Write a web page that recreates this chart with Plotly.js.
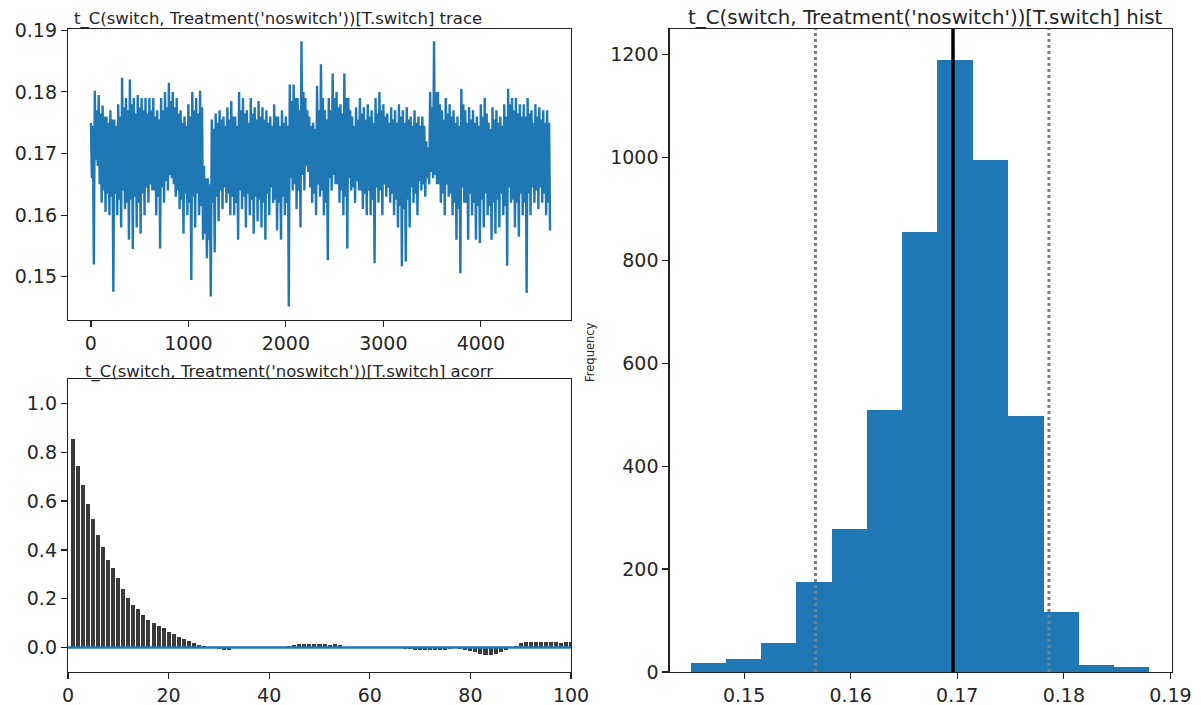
<!DOCTYPE html>
<html>
<head>
<meta charset="utf-8">
<script src="https://cdn.plot.ly/plotly-3.0.1.min.js"></script>
<style>html,body{margin:0;padding:0;background:#fff;}#chart{width:1201px;height:705px;}</style>
</head>
<body>
<div id="chart"></div>
<script>
// ---- trace panel: per block of traceStep samples, the spike high / low and the dense core high / low ----
var traceStep = 40;
var traceHigh = [0.1750,0.1802,0.1795,0.1778,0.1760,0.1770,0.1755,0.1780,0.1823,0.1790,
0.1820,0.1790,0.1795,0.1790,0.1790,0.1790,0.1790,0.1770,0.1790,0.1800,
0.1815,0.1800,0.1790,0.1770,0.1760,0.1780,0.1800,0.1790,0.1802,0.1680,
0.1660,0.1755,0.1765,0.1770,0.1760,0.1775,0.1785,0.1760,0.1800,0.1790,
0.1770,0.1790,0.1775,0.1785,0.1775,0.1770,0.1760,0.1780,0.1760,0.1770,
0.1760,0.1812,0.1812,0.1790,0.1882,0.1790,0.1760,0.1750,0.1810,0.1845,
0.1770,0.1790,0.1830,0.1800,0.1780,0.1830,0.1790,0.1760,0.1775,0.1790,
0.1775,0.1780,0.1770,0.1790,0.1800,0.1780,0.1765,0.1775,0.1770,0.1780,
0.1770,0.1775,0.1760,0.1770,0.1760,0.1760,0.1720,0.1800,0.1882,0.1800,
0.1770,0.1790,0.1780,0.1770,0.1760,0.1805,0.1770,0.1775,0.1770,0.1760,
0.1780,0.1790,0.1750,0.1775,0.1770,0.1760,0.1780,0.1805,0.1790,0.1790,
0.1780,0.1780,0.1790,0.1770,0.1780,0.1775,0.1770,0.1770];
var traceLow = [0.1520,0.1680,0.1620,0.1605,0.1600,0.1476,0.1600,0.1580,0.1610,0.1560,
0.1545,0.1580,0.1570,0.1600,0.1620,0.1640,0.1600,0.1546,0.1620,0.1640,
0.1660,0.1630,0.1610,0.1570,0.1600,0.1495,0.1580,0.1600,0.1560,0.1530,
0.1468,0.1540,0.1590,0.1610,0.1620,0.1600,0.1600,0.1560,0.1610,0.1580,
0.1600,0.1570,0.1590,0.1580,0.1560,0.1600,0.1620,0.1575,0.1560,0.1600,
0.1452,0.1640,0.1610,0.1580,0.1640,0.1670,0.1620,0.1600,0.1630,0.1600,
0.1527,0.1640,0.1650,0.1620,0.1600,0.1546,0.1640,0.1620,0.1640,0.1610,
0.1600,0.1600,0.1522,0.1620,0.1600,0.1630,0.1620,0.1600,0.1580,0.1517,
0.1525,0.1580,0.1620,0.1600,0.1640,0.1630,0.1650,0.1660,0.1650,0.1620,
0.1600,0.1630,0.1600,0.1560,0.1506,0.1620,0.1560,0.1600,0.1560,0.1555,
0.1580,0.1600,0.1560,0.1570,0.1580,0.1600,0.1518,0.1620,0.1580,0.1565,
0.1600,0.1474,0.1600,0.1620,0.1610,0.1620,0.1600,0.1575];
var traceCoreHigh = [0.1745,0.1770,0.1765,0.1760,0.1750,0.1755,0.1745,0.1760,0.1775,0.1770,
0.1780,0.1765,0.1775,0.1770,0.1765,0.1770,0.1760,0.1755,0.1770,0.1775,
0.1785,0.1775,0.1765,0.1750,0.1745,0.1760,0.1770,0.1765,0.1775,0.1660,
0.1650,0.1740,0.1750,0.1755,0.1745,0.1755,0.1760,0.1745,0.1770,0.1765,
0.1750,0.1765,0.1755,0.1760,0.1755,0.1750,0.1745,0.1760,0.1745,0.1750,
0.1745,0.1785,0.1790,0.1770,0.1800,0.1770,0.1745,0.1740,0.1770,0.1790,
0.1755,0.1770,0.1790,0.1775,0.1765,0.1790,0.1770,0.1745,0.1755,0.1765,
0.1755,0.1760,0.1750,0.1765,0.1770,0.1760,0.1750,0.1755,0.1750,0.1760,
0.1750,0.1755,0.1745,0.1750,0.1745,0.1745,0.1710,0.1775,0.1800,0.1780,
0.1755,0.1765,0.1760,0.1750,0.1745,0.1780,0.1750,0.1755,0.1750,0.1745,
0.1760,0.1765,0.1740,0.1755,0.1750,0.1745,0.1760,0.1780,0.1770,0.1765,
0.1760,0.1760,0.1765,0.1750,0.1760,0.1755,0.1750,0.1750];
var traceCoreLow = [0.1660,0.1690,0.1650,0.1640,0.1635,0.1630,0.1635,0.1625,0.1640,0.1620,
0.1625,0.1630,0.1620,0.1635,0.1645,0.1650,0.1640,0.1630,0.1645,0.1655,
0.1665,0.1650,0.1640,0.1625,0.1635,0.1620,0.1630,0.1635,0.1615,0.1570,
0.1560,0.1620,0.1630,0.1640,0.1645,0.1635,0.1630,0.1620,0.1640,0.1630,
0.1635,0.1625,0.1630,0.1625,0.1620,0.1635,0.1645,0.1625,0.1620,0.1630,
0.1620,0.1660,0.1650,0.1640,0.1665,0.1680,0.1645,0.1635,0.1650,0.1640,
0.1620,0.1660,0.1665,0.1650,0.1640,0.1630,0.1660,0.1645,0.1655,0.1640,
0.1635,0.1640,0.1625,0.1645,0.1640,0.1650,0.1645,0.1635,0.1625,0.1615,
0.1610,0.1625,0.1645,0.1635,0.1655,0.1650,0.1660,0.1670,0.1665,0.1650,
0.1635,0.1650,0.1635,0.1620,0.1610,0.1645,0.1620,0.1635,0.1620,0.1615,
0.1625,0.1635,0.1615,0.1620,0.1625,0.1635,0.1615,0.1645,0.1625,0.1620,
0.1635,0.1620,0.1635,0.1645,0.1640,0.1645,0.1635,0.1620];
var traceXTicks = [0, 1000, 2000, 3000, 4000];
var traceYTicks = [0.15, 0.16, 0.17, 0.18, 0.19];

// ---- autocorrelation panel (lags 1..100) ----
var acorrValues = [0.855,0.745,0.665,0.590,0.525,0.460,0.410,0.360,0.325,0.285,
0.240,0.205,0.175,0.160,0.135,0.115,0.100,0.090,0.080,0.065,
0.055,0.045,0.035,0.025,0.020,0.010,0.005,0.002,-0.002,-0.005,
-0.010,-0.008,-0.003,0.002,0.000,-0.002,0.000,0.001,-0.001,0.000,
0.001,0.000,0.002,0.005,0.012,0.015,0.015,0.014,0.015,0.014,
0.013,0.012,0.013,0.010,0.004,0.002,-0.002,-0.003,-0.002,-0.003,
-0.002,-0.003,-0.002,-0.001,0.000,-0.002,-0.005,-0.007,-0.010,-0.010,
-0.010,-0.010,-0.009,-0.010,-0.009,-0.005,-0.003,-0.007,-0.010,-0.015,
-0.020,-0.025,-0.030,-0.030,-0.025,-0.020,-0.010,-0.002,0.008,0.020,
0.022,0.022,0.022,0.022,0.021,0.022,0.022,0.020,0.022,0.022];
var acorrXTicks = [0, 20, 40, 60, 80, 100];
var acorrYTicks = [0.0, 0.2, 0.4, 0.6, 0.8, 1.0];

// ---- histogram panel ----
var histEdges = [0.1450,0.1483,0.1516,0.1549,0.1582,0.1615,0.1648,0.1681,0.1715,0.1748,0.1781,0.1814,0.1847,0.1880];
var histCounts = [18,25,57,174,277,510,855,1190,995,498,116,14,10];
var histMean = 0.1696;
var histInterval = [0.1567, 0.1786];
var histXTicks = [0.15, 0.16, 0.17, 0.18, 0.19];
var histYTicks = [0, 200, 400, 600, 800, 1000, 1200];

var paramName = "t_C(switch, Treatment('noswitch'))[T.switch]";

// ---- build traces ----
var tx = [], ty = [];
for (var k = 0; k < traceHigh.length; k++) {
  var x0 = k * traceStep, q = traceStep / 4;
  tx.push(x0);         ty.push(traceHigh[k]);
  tx.push(x0 + q);     ty.push(traceCoreLow[k]);
  tx.push(x0 + 2 * q); ty.push(traceCoreHigh[k]);
  tx.push(x0 + 3 * q); ty.push(traceLow[k]);
}
var lags = acorrValues.map(function (v, i) { return i + 1; });
var hx = [], hw = [];
for (var i = 0; i < histCounts.length; i++) {
  hx.push((histEdges[i] + histEdges[i + 1]) / 2);
  hw.push(histEdges[i + 1] - histEdges[i]);
}

var data = [
  {type: 'scatter', mode: 'lines', x: tx, y: ty, xaxis: 'x', yaxis: 'y',
   line: {color: '#1f77b4', width: 2.4}, hoverinfo: 'skip'},
  {type: 'bar', x: lags, y: acorrValues, width: 0.8, xaxis: 'x2', yaxis: 'y2',
   marker: {color: '#3a3a3a', line: {width: 0}}, hoverinfo: 'skip'},
  {type: 'scatter', mode: 'lines', x: [0, 100], y: [0, 0], xaxis: 'x2', yaxis: 'y2',
   line: {color: '#1f77b4', width: 2.5}, hoverinfo: 'skip'},
  {type: 'bar', x: hx, y: histCounts, width: hw, xaxis: 'x3', yaxis: 'y3',
   marker: {color: '#1f77b4', line: {width: 0}}, hoverinfo: 'skip'}
];

var W = 1201, H = 705;
function px(v) { return v / W; }
function py(v) { return 1 - v / H; }
var tickFont = {family: 'DejaVu Sans', size: 19, color: '#262626'};
function ax(extra) {
  var base = {showline: true, mirror: true, linecolor: '#222', linewidth: 1.2,
    ticks: 'outside', ticklen: 6, tickwidth: 1.2, tickcolor: '#222',
    showgrid: false, zeroline: false, tickfont: tickFont, fixedrange: true};
  for (var key in extra) base[key] = extra[key];
  return base;
}

var layout = {
  width: W, height: H,
  margin: {l: 0, r: 0, t: 0, b: 0},
  paper_bgcolor: '#fff', plot_bgcolor: '#fff',
  showlegend: false, bargap: 0,
  font: {family: 'DejaVu Sans', color: '#222'},
  xaxis: ax({domain: [px(68), px(571)], anchor: 'y', range: [-235, 4925],
    tickmode: 'array', tickvals: traceXTicks}),
  yaxis: ax({domain: [py(320), py(29)], anchor: 'x', range: [0.1430, 0.1902],
    tickmode: 'array', tickvals: traceYTicks, tickformat: '.2f'}),
  xaxis2: ax({domain: [px(68), px(571)], anchor: 'y2', range: [0, 100],
    tickmode: 'array', tickvals: acorrXTicks}),
  yaxis2: ax({domain: [py(672), py(379)], anchor: 'x2', range: [-0.1, 1.1],
    tickmode: 'array', tickvals: acorrYTicks, tickformat: '.1f'}),
  xaxis3: ax({domain: [px(669.5), px(1171.5)], anchor: 'y3', range: [0.1430, 0.1901],
    tickmode: 'array', tickvals: histXTicks, tickformat: '.2f'}),
  yaxis3: ax({domain: [py(672), py(29)], anchor: 'x3', range: [0, 1249.5],
    tickmode: 'array', tickvals: histYTicks}),
  shapes: [
    {type: 'line', xref: 'x3', yref: 'y3 domain', x0: histInterval[0], x1: histInterval[0], y0: 0, y1: 1,
     line: {color: '#808080', width: 3, dash: 'dot'}},
    {type: 'line', xref: 'x3', yref: 'y3 domain', x0: histInterval[1], x1: histInterval[1], y0: 0, y1: 1,
     line: {color: '#808080', width: 3, dash: 'dot'}},
    {type: 'line', xref: 'x3', yref: 'y3 domain', x0: histMean, x1: histMean, y0: 0, y1: 1,
     line: {color: '#000', width: 3.5}}
  ],
  annotations: [
    {text: paramName + ' trace', xref: 'paper', yref: 'paper', x: px(72), y: py(29),
     xanchor: 'left', yanchor: 'bottom', yshift: -2, showarrow: false,
     font: {family: 'DejaVu Sans', size: 16.5, color: '#262626'}},
    {text: paramName + ' acorr', xref: 'paper', yref: 'paper', x: px(83), y: py(379),
     xanchor: 'left', yanchor: 'bottom', yshift: -5, showarrow: false,
     font: {family: 'DejaVu Sans', size: 16.5, color: '#262626'}},
    {text: paramName + ' hist', xref: 'paper', yref: 'paper', x: px(925), y: py(29),
     xanchor: 'center', yanchor: 'bottom', yshift: -2, showarrow: false,
     font: {family: 'DejaVu Sans', size: 19.8, color: '#262626'}},
    {text: 'Frequency', xref: 'paper', yref: 'paper', x: px(590), y: py(352),
     xanchor: 'center', yanchor: 'middle', textangle: -90, showarrow: false,
     font: {family: 'DejaVu Sans', size: 11.5, color: '#262626'}}
  ]
};

Plotly.newPlot('chart', data, layout, {displayModeBar: false, staticPlot: true});
</script>
</body>
</html>
